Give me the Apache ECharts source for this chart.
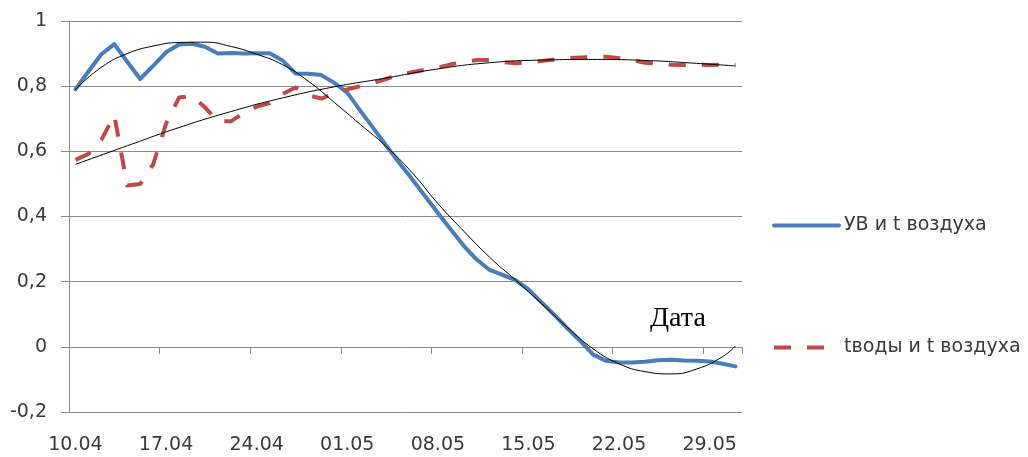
<!DOCTYPE html>
<html>
<head>
<meta charset="utf-8">
<script src="https://cdn.jsdelivr.net/npm/echarts@6/dist/echarts.min.js"></script>
<style>
  html, body { margin: 0; padding: 0; background: #ffffff; }
  #chart { width: 1028px; height: 457px; }
</style>
</head>
<body>
<div id="chart"></div>
<script>
// Daily dates, 10 April – 31 May
const dates = [
  '10.04','11.04','12.04','13.04','14.04','15.04','16.04','17.04','18.04','19.04',
  '20.04','21.04','22.04','23.04','24.04','25.04','26.04','27.04','28.04','29.04',
  '30.04','01.05','02.05','03.05','04.05','05.05','06.05','07.05','08.05','09.05',
  '10.05','11.05','12.05','13.05','14.05','15.05','16.05','17.05','18.05','19.05',
  '20.05','21.05','22.05','23.05','24.05','25.05','26.05','27.05','28.05','29.05',
  '30.05','31.05'
];

// Correlation: water level vs air temperature
const uvAir = [
  0.790, 0.845, 0.898, 0.929, 0.875, 0.822, 0.862, 0.904, 0.928, 0.930,
  0.921, 0.900, 0.902, 0.900, 0.901, 0.901, 0.879, 0.839, 0.838, 0.834,
  0.810, 0.780, 0.725, 0.672, 0.618, 0.566, 0.515, 0.463, 0.411, 0.360,
  0.310, 0.268, 0.236, 0.221, 0.205, 0.176, 0.137, 0.098, 0.057, 0.018,
  -0.024, -0.043, -0.048, -0.048, -0.046, -0.041, -0.040, -0.042, -0.043, -0.045,
  -0.052, -0.060
];

// Correlation: water temperature vs air temperature
const waterAir = [
  0.574, 0.592, 0.635, 0.711, 0.495, 0.500, 0.560, 0.685, 0.765, 0.770,
  0.735, 0.692, 0.692, 0.718, 0.737, 0.748, 0.776, 0.796, 0.772, 0.762,
  0.778, 0.790, 0.800, 0.810, 0.822, 0.835, 0.843, 0.850, 0.857, 0.867,
  0.874, 0.880, 0.880, 0.874, 0.870, 0.872, 0.877, 0.882, 0.886, 0.888,
  0.890, 0.890, 0.886, 0.880, 0.872, 0.869, 0.866, 0.865, 0.866, 0.865,
  0.866, 0.866
];

// Polynomial trend of the water-level curve
const uvTrendDates = [
  '10.04','12.04','14.04','16.04','18.04','20.04','22.04','24.04','26.04','28.04',
  '30.04','02.05','04.05','06.05','08.05','10.05','12.05','14.05','16.05','18.05',
  '20.05','22.05','24.05','26.05','28.05','30.05','31.05'
];
const uvTrend = [
  0.790, 0.858, 0.900, 0.923, 0.934, 0.935, 0.922, 0.898, 0.866, 0.815,
  0.750, 0.683, 0.615, 0.535, 0.440, 0.355, 0.275, 0.205, 0.133, 0.060,
  -0.006, -0.052, -0.076, -0.083, -0.068, -0.030, 0.003
];

// Polynomial trend of the water-temperature curve
const waterTrendDates = [
  '10.04','14.04','18.04','22.04','26.04','30.04','04.05','08.05','12.05','16.05',
  '20.05','24.05','28.05','31.05'
];
const waterTrend = [
  0.560, 0.617, 0.673, 0.722, 0.764, 0.798, 0.825, 0.853, 0.872, 0.880,
  0.882, 0.879, 0.870, 0.862
];

const yTickLabels = ['-0,2', '0', '0,2', '0,4', '0,6', '0,8', '1'];
const seriesNames = ['УВ и t воздуха', 'tводы и t воздуха'];
const axisTitle = 'Дата';

const GRID_COLOR = '#8c8c8c';
const TEXT_COLOR = '#3a3a3a';
const FONT = '"DejaVu Sans", sans-serif';

const chart = echarts.init(document.getElementById('chart'), null, { renderer: 'canvas' });

chart.setOption({
  animation: false,
  backgroundColor: '#ffffff',
  grid: { left: 69, right: 286, top: 21, bottom: 45, containLabel: false },
  legend: {
    data: seriesNames,
    orient: 'vertical',
    left: 767,
    top: 211,
    itemWidth: 65,
    itemHeight: 14,
    itemGap: 103,
    itemStyle: { opacity: 0 },
    lineStyle: { width: 4 },
    textStyle: { fontFamily: FONT, fontSize: 19, color: TEXT_COLOR }
  },
  graphic: [{
    type: 'text',
    x: 650,
    y: 319,
    style: {
      text: axisTitle,
      font: '28px "Liberation Serif", serif',
      fill: '#000000',
      verticalAlign: 'middle'
    }
  }],
  xAxis: [
    {
      // labels at the bottom of the plot
      type: 'category',
      data: dates,
      position: 'bottom',
      boundaryGap: true,
      axisLine: { show: false, onZero: false },
      axisTick: { show: false },
      axisLabel: { interval: 6, margin: 24, fontFamily: FONT, fontSize: 19, color: TEXT_COLOR },
      splitLine: { show: false }
    },
    {
      // weekly tick marks hanging from the zero line
      type: 'category',
      data: dates,
      position: 'top',
      boundaryGap: true,
      axisLine: { show: true, onZero: true, lineStyle: { color: GRID_COLOR, width: 1 } },
      axisTick: { show: true, inside: true, interval: 6, length: 7, lineStyle: { color: GRID_COLOR, width: 1 } },
      axisLabel: { show: false },
      splitLine: { show: false }
    }
  ],
  yAxis: {
    type: 'value',
    min: -0.2,
    max: 1,
    interval: 0.2,
    axisLine: { show: true, lineStyle: { color: GRID_COLOR, width: 1 } },
    axisTick: { show: true, length: 8, lineStyle: { color: GRID_COLOR, width: 1 } },
    axisLabel: {
      margin: 22,
      fontFamily: FONT,
      fontSize: 19,
      color: TEXT_COLOR,
      formatter: function (value, index) { return yTickLabels[index]; }
    },
    splitLine: { show: true, lineStyle: { color: GRID_COLOR, width: 1 } }
  },
  series: [
    {
      name: seriesNames[0],
      type: 'line',
      data: uvAir,
      symbol: 'none',
      smooth: false,
      z: 3,
      lineStyle: { color: '#4a7ebb', width: 4, join: 'round', cap: 'round' },
      itemStyle: { color: '#4a7ebb' }
    },
    {
      name: seriesNames[1],
      type: 'line',
      data: waterAir,
      symbol: 'none',
      smooth: false,
      z: 3,
      lineStyle: { color: '#be4b48', width: 4, type: [17, 16], join: 'round' },
      itemStyle: { color: '#be4b48' }
    },
    {
      name: 'uvTrend',
      type: 'line',
      data: uvTrendDates.map(function (d, k) { return [d, uvTrend[k]]; }),
      symbol: 'none',
      smooth: true,
      z: 4,
      silent: true,
      lineStyle: { color: '#000000', width: 1 }
    },
    {
      name: 'waterTrend',
      type: 'line',
      data: waterTrendDates.map(function (d, k) { return [d, waterTrend[k]]; }),
      symbol: 'none',
      smooth: true,
      z: 4,
      silent: true,
      lineStyle: { color: '#000000', width: 1 }
    }
  ]
});
</script>
</body>
</html>
